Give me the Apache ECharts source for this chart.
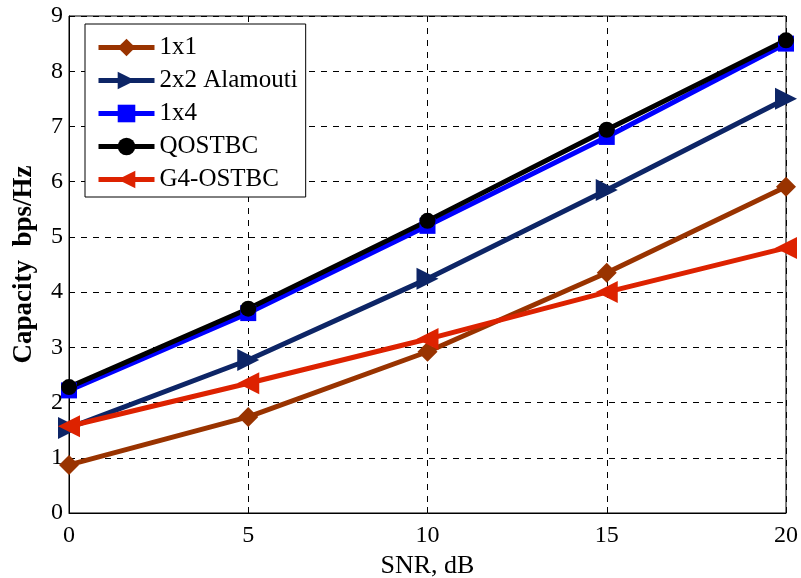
<!DOCTYPE html>
<html>
<head>
<meta charset="utf-8">
<script src="https://cdn.jsdelivr.net/npm/echarts@6/dist/echarts.min.js"></script>
<style>
  html, body { margin: 0; padding: 0; background: #fff; }
  #chart { width: 801px; height: 578px; }
</style>
</head>
<body>
<div id="chart"></div>
<script>
// SNR values on the x axis
const snr = [0, 5, 10, 15, 20];

// Capacity (bps/Hz)
const cap1x1 = [0.87, 1.74, 2.92, 4.35, 5.91];
const cap2x2 = [1.54, 2.77, 4.24, 5.85, 7.50];
const cap1x4 = [2.22, 3.62, 5.20, 6.81, 8.50];
const capQostbc = [2.28, 3.70, 5.29, 6.94, 8.56];
const capG4 = [1.57, 2.35, 3.15, 4.00, 4.80];

const seriesNames = ['1x1', '2x2 Alamouti', '1x4', 'QOSTBC', 'G4-OSTBC'];

const font = 'Liberation Serif, Times New Roman, serif';

function pairs(values) {
    return snr.map((x, i) => [x, values[i]]);
}

function lineSeries(name, values, color, symbol, rotate, size) {
    return {
        name: name,
        type: 'line',
        data: pairs(values),
        symbol: symbol,
        symbolSize: size,
        symbolRotate: rotate,
        lineStyle: { color: color, width: 5 },
        itemStyle: { color: color, borderWidth: 0 },
        emphasis: { disabled: true }
    };
}

const chart = echarts.init(document.getElementById('chart'));
chart.setOption({
    animation: false,
    grid: {
        left: 69, right: 15, top: 16, bottom: 65,
        outerBoundsMode: 'none',
        show: true, borderColor: '#000', borderWidth: 1
    },
    legend: {
        left: 85,
        top: 24,
        orient: 'vertical',
        backgroundColor: '#fff',
        borderColor: '#000',
        borderWidth: 1,
        padding: [11, 8, 5, 11],
        itemGap: 8,
        itemWidth: 56,
        itemHeight: 22,
        lineStyle: { width: 5 },
        textStyle: { fontFamily: font, fontSize: 25, color: '#000' },
        data: seriesNames
    },
    xAxis: {
        type: 'value',
        min: 0,
        max: 20,
        interval: 5,
        name: 'SNR, dB',
        nameLocation: 'middle',
        nameGap: 34,
        nameTextStyle: { fontFamily: font, fontSize: 26, color: '#000' },
        axisLine: { lineStyle: { color: '#000' } },
        axisTick: { inside: true, length: 6, lineStyle: { color: '#000' } },
        axisLabel: { fontFamily: font, fontSize: 24, color: '#000', margin: 11 },
        splitLine: { show: true, lineStyle: { color: '#000', type: [6, 6] } }
    },
    yAxis: {
        type: 'value',
        min: 0,
        max: 9,
        interval: 1,
        name: 'Capacity  bps/Hz',
        nameLocation: 'middle',
        nameGap: 31,
        nameTextStyle: { fontFamily: font, fontSize: 27, fontWeight: 'bold', color: '#000' },
        axisLine: { show: true, lineStyle: { color: '#000' } },
        axisTick: { show: true, inside: true, length: 6, lineStyle: { color: '#000' } },
        axisLabel: { fontFamily: font, fontSize: 24, color: '#000', margin: 6 },
        splitLine: { show: true, lineStyle: { color: '#000', type: [6, 6] } }
    },
    series: [
        lineSeries(seriesNames[0], cap1x1, '#993300', 'diamond', 0, 20),
        lineSeries(seriesNames[1], cap2x2, '#0d2566', 'triangle', -90, 22),
        lineSeries(seriesNames[2], cap1x4, '#0000ff', 'rect', 0, 16),
        lineSeries(seriesNames[3], capQostbc, '#000000', 'circle', 0, 16),
        lineSeries(seriesNames[4], capG4, '#dd2200', 'triangle', 90, 22)
    ]
});
</script>
</body>
</html>
